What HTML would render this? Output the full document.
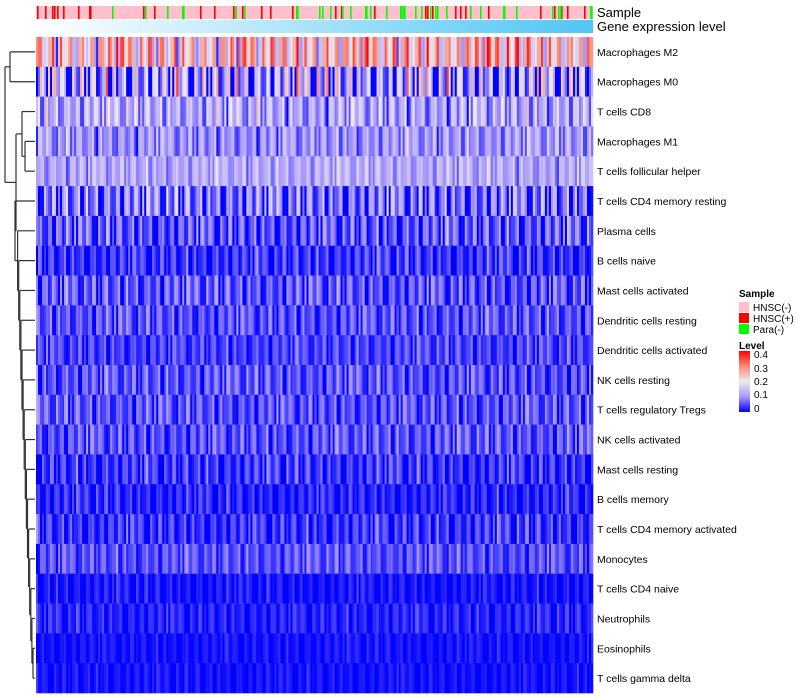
<!DOCTYPE html>
<html><head><meta charset="utf-8"><style>
body{margin:0;background:#fff;}
svg{display:block;font-family:"Liberation Sans",sans-serif;}
</style></head><body>
<svg id="chart" width="800" height="700" viewBox="0 0 800 700">
<defs><linearGradient id="gexp" x1="0" x2="1" y1="0" y2="0"><stop offset="0" stop-color="#ffffff"/><stop offset="1" stop-color="#4fc6f5"/></linearGradient>
<linearGradient id="lvl" x1="0" x2="0" y1="1" y2="0"><stop offset="0" stop-color="#0000ff"/><stop offset="0.25" stop-color="#a898fa"/><stop offset="0.5" stop-color="#eeeaf0"/><stop offset="0.75" stop-color="#f88a78"/><stop offset="1" stop-color="#ff0000"/></linearGradient></defs>
<g id="annot"></g>
<rect x="36" y="20" width="557" height="13" fill="url(#gexp)"/>
<text x="597" y="17" font-size="13" fill="#000">Sample</text>
<text x="597" y="31" font-size="13" fill="#000">Gene expression level</text>
<g id="cells"></g>
<g id="labels"></g>
<g id="dendro" stroke="#333" stroke-width="1.2" fill="none"></g>
<g font-size="10">
<text x="739" y="297" font-weight="bold">Sample</text>
<rect x="739" y="302" width="10" height="10" fill="#ffc0cb"/>
<text x="753" y="311">HNSC(-)</text>
<rect x="739" y="313" width="10" height="10" fill="#ff0000"/>
<text x="753" y="322">HNSC(+)</text>
<rect x="739" y="324" width="10" height="10" fill="#00ff00"/>
<text x="753" y="333">Para(-)</text>
<text x="739" y="349" font-weight="bold">Level</text>
<rect x="739" y="351" width="11" height="61" fill="url(#lvl)"/>
<text x="754" y="358">0.4</text>
<text x="754" y="372">0.3</text>
<text x="754" y="385">0.2</text>
<text x="754" y="398">0.1</text>
<text x="754" y="412">0</text>
</g>
</svg>
<script>
const rowNames=["Macrophages M2","Macrophages M0","T cells CD8","Macrophages M1","T cells follicular helper","T cells CD4 memory resting","Plasma cells","B cells naive","Mast cells activated","Dendritic cells resting","Dendritic cells activated","NK cells resting","T cells regulatory  Tregs","NK cells activated","Mast cells resting","B cells memory","T cells CD4 memory activated","Monocytes","T cells CD4 naive","Neutrophils","Eosinophils","T cells gamma delta"];
const rowMeans=[0.23,0.10,0.12,0.10,0.12,0.07,0.05,0.03,0.05,0.05,0.04,0.05,0.05,0.05,0.03,0.02,0.03,0.05,0.01,0.02,0.01,0.01];
const rowSpread=[0.13,0.16,0.08,0.06,0.05,0.10,0.07,0.05,0.06,0.05,0.04,0.05,0.05,0.05,0.05,0.04,0.05,0.04,0.03,0.03,0.02,0.02];
const noise=[0.3,-0.8,0.9,-0.2,0.1,-1,0.6,-0.5,0.2,0.8,-0.9,-0.1,0.4,-0.6,1,-0.3,0,0.7,-0.7,0.5,-0.4,0.9,-1,0.2,-0.2,0.6,-0.8,0.1,0.3,-0.5,0.8,-0.9,0.4,-0.1,0.7,-0.6,0,1,-0.4,0.5,-0.7,0.2,-0.3,0.9,-0.8,0.6,-0.2,0.1,-1,0.4,0.7,-0.5,0.3,-0.9,0.8,-0.1,0.5,-0.6,0.2,-0.4,1];
const redCols=[1,9,16,18,21,27,42,53,54,107,118,146,164,178,197,199,206,225,234,256,299,305,338,389,391,396,419,424,429,452,504,518,525,531,548];
const greenCols=[76,109,131,146,147,199,208,260,261,283,286,294,306,314,329,330,334,350,364,365,367,368,379,385,394,399,401,410,434,444,467,468,480,516,522,524,554,555];
const NC=278, X0=36, X1=593, Y0=37, Y1=693;
const cw=(X1-X0)/NC, rh=(Y1-Y0)/rowNames.length;
const xCol=c=>X0+c*cw, yRow=r=>Y0+r*rh;
const NS="http://www.w3.org/2000/svg";
const stops=[[0,[0,0,255]],[0.1,[168,152,250]],[0.2,[238,234,240]],[0.3,[248,138,120]],[0.4,[255,0,0]]];
function col(v){v=Math.max(0,Math.min(0.4,v));for(let i=1;i<stops.length;i++){if(v<=stops[i][0]){const a=stops[i-1],b=stops[i],t=(v-a[0])/(b[0]-a[0]);return `rgb(${a[1].map((x,k)=>Math.round(x+(b[1][k]-x)*t)).join(',')})`;}}return 'rgb(255,0,0)';}
const annot=document.getElementById('annot');
let bg=document.createElementNS(NS,'rect');
bg.setAttribute('x',X0);bg.setAttribute('y',6);bg.setAttribute('width',X1-X0);bg.setAttribute('height',13);bg.setAttribute('fill','#ffc0cb');


annot.appendChild(bg);
function mark(p,c,n){const r=document.createElementNS(NS,'rect');r.setAttribute('x',X0+p);r.setAttribute('y',6);r.setAttribute('width',1.6);r.setAttribute('height',13);r.setAttribute('fill',c);


annot.appendChild(r);}
redCols.forEach(p=>mark(p,'#ff0000','sample-hnsc-pos'));
greenCols.forEach(p=>mark(p,'#00ff00','sample-para'));
const cells=document.getElementById('cells');
rowNames.forEach((nm,r)=>{
  for(let c=0;c<NC;c++){
    const v=rowMeans[r]+rowSpread[r]*noise[(c*17+r*29)%noise.length]*(c%5===0?1.6:1);
    const e=document.createElementNS(NS,'rect');
    e.setAttribute('x',xCol(c));e.setAttribute('y',yRow(r));e.setAttribute('width',cw+0.3);e.setAttribute('height',rh+0.3);e.setAttribute('fill',col(v));
    
    
    cells.appendChild(e);
  }
  const t=document.createElementNS(NS,'text');
  t.setAttribute('x',597);t.setAttribute('y',yRow(r)+rh/2+4);t.setAttribute('font-size','10.5');t.textContent=nm;
  
  
  document.getElementById('labels').appendChild(t);
});
const dg=document.getElementById('dendro');
function ln(x1,y1,x2,y2){const l=document.createElementNS(NS,'line');l.setAttribute('x1',x1);l.setAttribute('y1',y1);l.setAttribute('x2',x2);l.setAttribute('y2',y2);


dg.appendChild(l);}
const yc=r=>yRow(r)+rh/2;
function node(a,b,x){ln(x,a.y,x,b.y);ln(x,a.y,a.x,a.y);ln(x,b.y,b.x,b.y);return {x:x,y:(a.y+b.y)/2};}
const leaf=r=>({x:35,y:yc(r)});
const A=node(leaf(0),leaf(1),10);
const B=node(leaf(2),node(leaf(3),leaf(4),25),22);
let C=node(leaf(20),leaf(21),33);
for(let r=19;r>=6;r--){C=node(leaf(r),C,Math.max(17,33-(20-r)*1.1));}
C=node(leaf(5),C,15);
const BC=node(B,C,16);
node(A,BC,5);
</script>
</body></html>
